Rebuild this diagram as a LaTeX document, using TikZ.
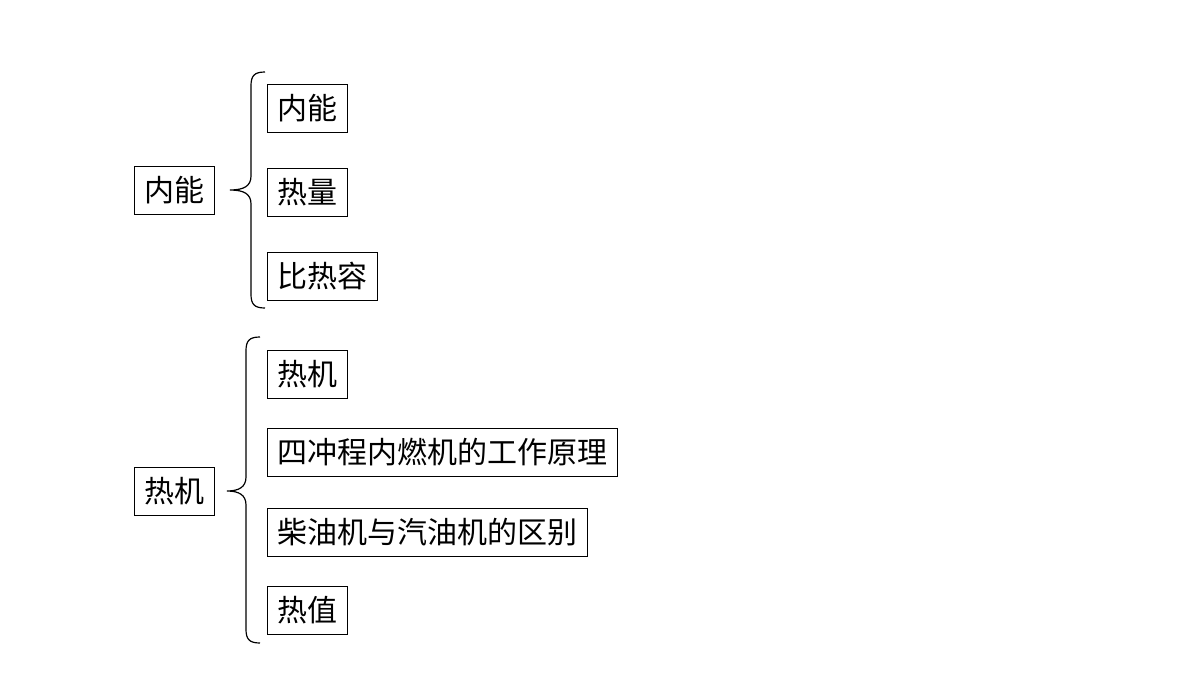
\documentclass[tikz,border=0pt]{standalone}
\usepackage{fontspec}
\newfontfamily\cjk{Noto Sans CJK SC}
\begin{document}
\begin{tikzpicture}[x=1pt,y=-1pt,
  box/.style={draw,line width=1pt,font=\cjk\fontsize{30}{32}\selectfont,inner xsep=10pt,minimum height=48pt,anchor=west},
  br/.style={line width=1.2pt}]
\useasboundingbox (0,0) rectangle (1200,675);
\node[box] (a) at (134,190) {内能};
\node[box] (a1) at (267,108) {内能};
\node[box] (a2) at (267,192) {热量};
\node[box] (a3) at (267,276) {比热容};
\node[box] (b) at (134,491) {热机};
\node[box] (b1) at (267,374) {热机};
\node[box] (b2) at (267,452) {四冲程内燃机的工作原理};
\node[box] (b3) at (267,532) {柴油机与汽油机的区别};
\node[box] (b4) at (267,610) {热值};
\draw[br] (265,72) .. controls (254,72) and (251,76) .. (251,86) -- (251,176)
  .. controls (251,186) and (244,190) .. (230,190)
  .. controls (244,190) and (251,194) .. (251,204) -- (251,294)
  .. controls (251,304) and (254,308) .. (265,308);
\draw[br] (260,337) .. controls (249,337) and (246,341) .. (246,351) -- (246,477)
  .. controls (246,487) and (239,491) .. (227,491)
  .. controls (239,491) and (246,495) .. (246,505) -- (246,629)
  .. controls (246,639) and (249,643) .. (260,643);
\end{tikzpicture}
\end{document}
